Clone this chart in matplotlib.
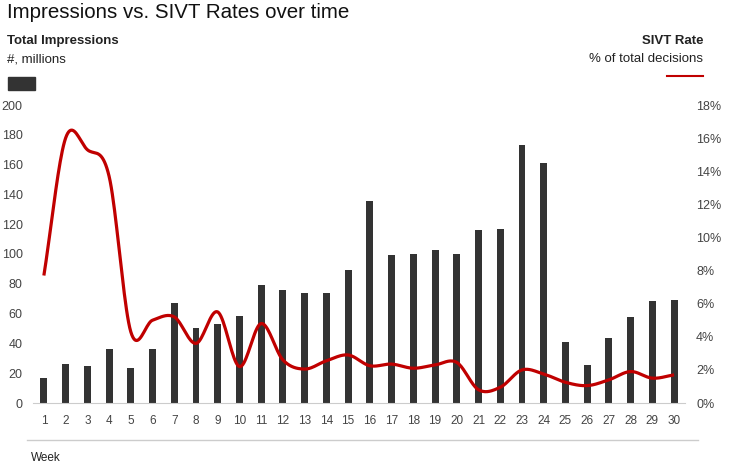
import matplotlib.pyplot as plt
import numpy as np
from matplotlib.ticker import PercentFormatter

plt.rcParams['font.family'] = ['Liberation Sans', 'DejaVu Sans']

weeks = list(range(1, 31))
impressions = [17, 26, 24.5, 36, 23.5, 36.5, 67, 50.5, 53, 58.5,
               79, 76, 74, 74, 89, 135.5, 99, 100, 103, 100,
               116, 117, 173, 161, 41, 25.5, 43.5, 57.5, 68.5, 69]
sivt_rate = [7.7, 16.0, 15.3, 13.7, 4.3, 5.0, 5.2, 3.6, 5.5, 2.2,
             4.8, 2.6, 2.05, 2.55, 2.9, 2.25, 2.35, 2.1, 2.3, 2.45,
             0.8, 0.95, 2.0, 1.75, 1.25, 1.05, 1.4, 1.9, 1.5, 1.7]

bar_color = '#333333'
line_color = '#c00000'
text_color = '#444444'


def smooth(x, y, n=20):
    # catmull-rom through the points, like excel's smoothed line
    x = np.asarray(x, float)
    y = np.asarray(y, float)
    px = np.concatenate([[2 * x[0] - x[1]], x, [2 * x[-1] - x[-2]]])
    py = np.concatenate([[2 * y[0] - y[1]], y, [2 * y[-1] - y[-2]]])
    xs, ys = [], []
    t = np.linspace(0, 1, n, endpoint=False)
    for i in range(1, len(px) - 2):
        for p, out in ((px, xs), (py, ys)):
            p0, p1, p2, p3 = p[i - 1], p[i], p[i + 1], p[i + 2]
            out.extend(0.5 * (2 * p1 + (-p0 + p2) * t
                              + (2 * p0 - 5 * p1 + 4 * p2 - p3) * t ** 2
                              + (-p0 + 3 * p1 - 3 * p2 + p3) * t ** 3))
    xs.append(x[-1])
    ys.append(y[-1])
    return np.array(xs), np.array(ys)


W, H = 731, 474
fig = plt.figure(figsize=(W / 100, H / 100), dpi=100)
ax = fig.add_axes([33 / W, 1 - 403 / H, (685 - 33) / W, (403 - 105) / H])

ax.bar(weeks, impressions, width=0.32, color=bar_color, zorder=2)
ax.set_ylim(0, 200)
ax.set_yticks(range(0, 201, 20))
ax.set_xlim(0.5, 30.5)
ax.set_xticks(weeks)

ax2 = ax.twinx()
sx, sy = smooth(weeks, sivt_rate)
ax2.plot(sx, sy, color=line_color, lw=2.3, solid_capstyle='butt')
ax2.set_ylim(0, 18)
ax2.set_yticks(range(0, 19, 2))
ax2.yaxis.set_major_formatter(PercentFormatter(decimals=0))

for a in (ax, ax2):
    for s in a.spines.values():
        s.set_visible(False)
    a.tick_params(length=0, labelsize=9, labelcolor=text_color)
ax.spines['bottom'].set_visible(True)
ax.spines['bottom'].set_color('#cccccc')
ax.tick_params(axis='y', pad=7.5)
ax.tick_params(axis='x', pad=9, labelsize=8.5)
ax2.tick_params(axis='y', pad=8)

fig.text(7 / W, 1 - 13 / H, 'Impressions vs. SIVT Rates over time',
         fontsize=14.8, color='#111111', va='center')
fig.text(7 / W, 1 - 41 / H, 'Total Impressions', fontsize=9.5,
         fontweight='bold', color='#222222', va='center')
fig.text(7 / W, 1 - 59 / H, '#, millions', fontsize=9.5,
         color='#222222', va='center')
fig.patches.append(plt.Rectangle((8 / W, 1 - 90 / H), 27 / W, 13 / H,
                                 transform=fig.transFigure, color=bar_color))
fig.text(703 / W, 1 - 41 / H, 'SIVT Rate', fontsize=9.5, fontweight='bold',
         color='#222222', va='center', ha='right')
fig.text(703 / W, 1 - 59 / H, '% of total decisions', fontsize=9.5,
         color='#222222', va='center', ha='right')
fig.lines.append(plt.Line2D([667 / W, 703 / W], [1 - 76 / H] * 2,
                            transform=fig.transFigure, color=line_color, lw=1.5))
fig.lines.append(plt.Line2D([27 / W, 698 / W], [1 - 440 / H] * 2,
                            transform=fig.transFigure, color='#cccccc', lw=1))
fig.text(31 / W, 1 - 458 / H, 'Week', fontsize=8.5, color='#222222',
         va='center')

fig.savefig('out.png', dpi=100)
